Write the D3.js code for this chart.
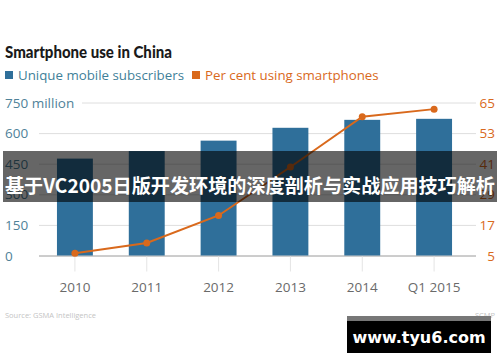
<!DOCTYPE html>
<html>
<head>
<meta charset="utf-8">
<script src="https://cdn.jsdelivr.net/npm/d3@7"></script>
<style>
  body { margin: 0; background: #fff; }
  svg { display: block; font-family: "Open Sans", "Noto Sans", sans-serif; }
</style>
</head>
<body>
<svg id="chart" width="500" height="362"></svg>
<script>
// categories on the x axis
const years = ["2010", "2011", "2012", "2013", "2014", "Q1 2015"];
// unique mobile subscribers, millions
const subscribers = [475, 512, 563, 626, 665, 670];
// per cent using smartphones
const smartShare = [5.9, 9.9, 20.7, 39.7, 59.4, 62.4];
// tick labels
const leftTicks = [0, 150, 300, 450, 600, 750];
const rightTicks = [5, 17, 29, 41, 53, 65];

const blue = "#2f6f9a";
const orange = "#d9691c";

const svg = d3.select("#chart");

// plot area
const plotTop = 102.5, plotBottom = 255.5, plotLeft = 39, plotRight = 476;

const x = d3.scaleBand()
    .domain(years)
    .range([39, 470])
    .paddingInner(0.5)
    .paddingOuter(0.25);

const yLeft = d3.scaleLinear().domain([0, 750]).range([plotBottom, plotTop]);
const yRight = d3.scaleLinear().domain([5, 65]).range([plotBottom, plotTop]);

// title
svg.append("text")
    .attr("x", 5).attr("y", 58)
    .attr("font-family", "Lato, sans-serif")
    .attr("font-size", 16.5).attr("font-weight", 900)
    .attr("fill", "#1a1a1a")
    .attr("textLength", 167)
    .attr("lengthAdjust", "spacingAndGlyphs")
    .text("Smartphone use in China");

// legend
const legend = [
    {label: "Unique mobile subscribers", color: blue, text: "#3f7f99", x: 5},
    {label: "Per cent using smartphones", color: orange, text: orange, x: 192}
];
legend.forEach(d => {
    svg.append("rect").attr("x", d.x).attr("y", 71).attr("width", 8).attr("height", 8).attr("fill", d.color);
    svg.append("text").attr("x", d.x + 13).attr("y", 80)
        .attr("font-size", 13.3).attr("fill", d.text).text(d.label);
});

// gridlines
svg.append("g")
    .selectAll("line")
    .data(leftTicks)
    .join("line")
    .attr("x1", d => d === 750 ? 82 : plotLeft)
    .attr("x2", plotRight)
    .attr("y1", d => yLeft(d) + 0.5)
    .attr("y2", d => yLeft(d) + 0.5)
    .attr("stroke", d => d === 0 ? "#9a9a9a" : "#dedede")
    .attr("stroke-width", 1);

// left axis labels
svg.append("g")
    .selectAll("text")
    .data(leftTicks)
    .join("text")
    .attr("x", 5)
    .attr("y", d => yLeft(d) + 5)
    .attr("font-size", 13.5)
    .attr("fill", "#4f8299")
    .text(d => d === 750 ? "750 million" : d);

// right axis labels
svg.append("g")
    .selectAll("text")
    .data(rightTicks)
    .join("text")
    .attr("x", 495)
    .attr("y", d => yRight(d) + 5)
    .attr("text-anchor", "end")
    .attr("font-size", 13.5)
    .attr("fill", orange)
    .text(d => d);

// x ticks and labels
const xg = svg.append("g");
xg.selectAll("line")
    .data(years)
    .join("line")
    .attr("x1", d => x(d) + x.bandwidth() / 2)
    .attr("x2", d => x(d) + x.bandwidth() / 2)
    .attr("y1", plotBottom + 1).attr("y2", plotBottom + 16)
    .attr("stroke", "#e4e4e4");
xg.selectAll("text")
    .data(years)
    .join("text")
    .attr("x", d => x(d) + x.bandwidth() / 2)
    .attr("y", 292)
    .attr("text-anchor", "middle")
    .attr("font-size", 13.5)
    .attr("fill", "#6a6a6a")
    .text(d => d);

// bars
svg.append("g")
    .selectAll("rect")
    .data(subscribers)
    .join("rect")
    .attr("x", (d, i) => x(years[i]))
    .attr("y", d => yLeft(d))
    .attr("width", x.bandwidth())
    .attr("height", d => plotBottom - yLeft(d))
    .attr("fill", blue);

// line
const line = d3.line()
    .x((d, i) => x(years[i]) + x.bandwidth() / 2)
    .y(d => yRight(d));
svg.append("path")
    .datum(smartShare)
    .attr("d", line)
    .attr("fill", "none")
    .attr("stroke", orange)
    .attr("stroke-width", 2);
svg.append("g")
    .selectAll("circle")
    .data(smartShare)
    .join("circle")
    .attr("cx", (d, i) => x(years[i]) + x.bandwidth() / 2)
    .attr("cy", d => yRight(d))
    .attr("r", 3.5)
    .attr("fill", orange);

// source footer
svg.append("text").attr("x", 5).attr("y", 318)
    .attr("font-size", 7.5).attr("fill", "#c4c4c4")
    .text("Source: GSMA Intelligence");
svg.append("text").attr("x", 495).attr("y", 318)
    .attr("text-anchor", "end")
    .attr("font-size", 7.5).attr("fill", "#c4c4c4")
    .text("SCMP");

// overlay banner
svg.append("rect")
    .attr("x", 3).attr("y", 151).attr("width", 494).attr("height", 51)
    .attr("fill", "rgba(0,0,0,0.6)");
svg.append("text")
    .attr("x", 250).attr("y", 193)
    .attr("text-anchor", "middle")
    .attr("font-family", "'Noto Sans CJK SC', sans-serif")
    .attr("font-size", 19.5).attr("font-weight", 700)
    .attr("fill", "#fff")
    .attr("textLength", 490)
    .attr("lengthAdjust", "spacingAndGlyphs")
    .text("基于VC2005日版开发环境的深度剖析与实战应用技巧解析");

// watermark
svg.append("rect")
    .attr("x", 347).attr("y", 316).attr("width", 144).attr("height", 37)
    .attr("fill", "#000");
svg.append("rect")
    .attr("x", 347).attr("y", 316).attr("width", 144).attr("height", 5)
    .attr("fill", "#777");
svg.append("text")
    .attr("x", 419).attr("y", 343)
    .attr("text-anchor", "middle")
    .attr("font-family", "'DejaVu Sans', sans-serif")
    .attr("font-size", 16).attr("font-weight", 700)
    .attr("fill", "#fff")
    .text("www.tyu6.com");
</script>
</body>
</html>
